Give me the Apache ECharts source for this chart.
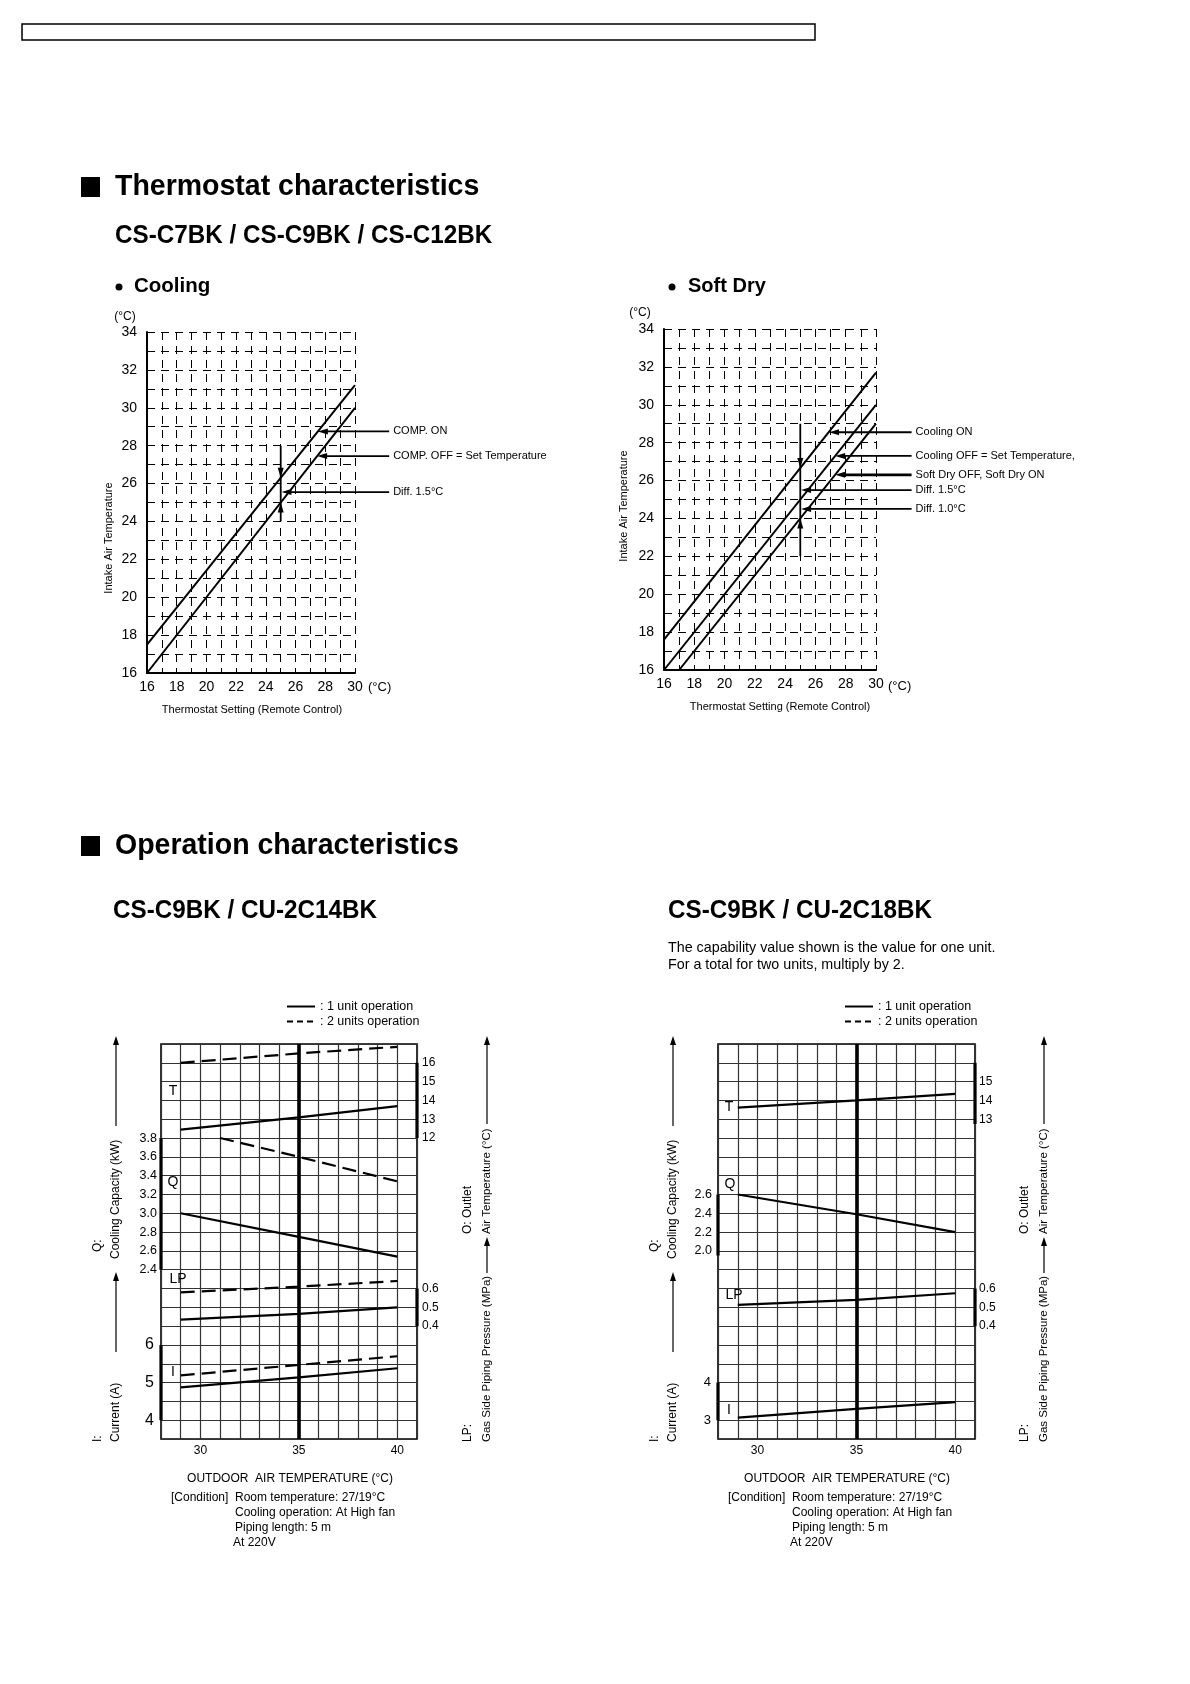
<!DOCTYPE html>
<html><head><meta charset="utf-8">
<script src="https://cdn.jsdelivr.net/npm/echarts/dist/echarts.min.js"></script>
<style>html,body{margin:0;padding:0;background:#fff}#c{width:1190px;height:1684px}</style>
</head><body><div id="c"></div>
<script>
// ---------------- DATA ----------------
// Thermostat charts (x = thermostat setting, y = intake air temperature)
const thermoXLabels = [16, 18, 20, 22, 24, 26, 28, 30];
const thermoYLabels = [16, 18, 20, 22, 24, 26, 28, 30, 32, 34];
const coolOn  = [[16, 17.5], [30, 31.2]];
const coolOff = [[16, 16], [30, 30]];
const dryOn   = [[16, 17.6], [30, 31.7]];
const dryOff  = [[16, 16], [30, 30]];
const drySoft = [[17, 16], [30, 29]];
const coolNotes   = ['COMP. ON', 'COMP. OFF = Set Temperature', 'Diff. 1.5°C'];
const coolNoteY   = [28.75, 27.45, 25.55];
const coolNoteTip = [27.5, 27.45, 25.05];
const dryNotes    = ['Cooling ON', 'Cooling OFF = Set Temperature,', 'Soft Dry OFF, Soft Dry ON', 'Diff. 1.5°C', 'Diff. 1.0°C'];
const dryNoteY    = [28.55, 27.3, 26.3, 25.5, 24.5];
const dryNoteTip  = [26.9, 27.3, 27.3, 25.05, 25.05];
const coolDiffX = 25, coolDiffY = [28, 26.31, 25.0, 24];
const dryDiffX  = 25, dryDiffY  = [29, 26.66, 24.0, 22];

// Operation characteristics (x = outdoor air temperature)
const opXLabels = [30, 35, 40];
// CS-C9BK / CU-2C14BK
const L_T1  = [[29, 12.45], [35, 13.1], [40, 13.7]];
const L_T2  = [[29, 16.0], [35, 16.5], [40, 16.85]];
const L_Q1  = [[29, 3.0], [35, 2.75], [40, 2.54]];
const L_Q2  = [[31, 3.8], [35, 3.6], [40, 3.34]];
const L_LP1 = [[29, 0.435], [35, 0.465], [40, 0.5]];
const L_LP2 = [[29, 0.58], [35, 0.61], [40, 0.64]];
const L_I1  = [[29, 4.87], [35, 5.14], [40, 5.38]];
const L_I2  = [[29, 5.19], [35, 5.47], [40, 5.7]];
const L_Qticks = [2.4, 2.6, 2.8, 3.0, 3.2, 3.4, 3.6, 3.8];
const L_Tticks = [12, 13, 14, 15, 16];
const L_LPticks = [0.4, 0.5, 0.6];
const L_Iticks = [4, 5, 6];
// CS-C9BK / CU-2C18BK
const R_T1  = [[29, 13.62], [35, 14.0], [40, 14.35]];
const R_Q1  = [[29, 2.6], [35, 2.39], [40, 2.2]];
const R_LP1 = [[29, 0.513], [35, 0.54], [40, 0.575]];
const R_I1  = [[29, 3.07], [35, 3.3], [40, 3.48]];
const R_Qticks = [2.0, 2.2, 2.4, 2.6];
const R_Tticks = [13, 14, 15];
const R_LPticks = [0.4, 0.5, 0.6];
const R_Iticks = [3, 4];
const R_Tbar = [16, 12.75];
const R_Qbar = [2.6, 1.95];

// ---------------- HELPERS ----------------
const F = '"Liberation Sans", Arial, Helvetica, sans-serif';
const BLK = '#000';
function pick(ticks, v, dec) {
  const t = ticks.find(t => Math.abs(t - v) < 1e-6);
  return t === undefined ? '' : t.toFixed(dec);
}
function thermoX(g) {
  return { type: 'value', gridIndex: g, min: 16, max: 30, interval: 1,
    axisLine: { show: true, onZero: false, lineStyle: { color: BLK, width: 2 } },
    axisTick: { show: false },
    axisLabel: { color: BLK, fontSize: 14, fontFamily: F, margin: 7, hideOverlap: false,
      formatter: v => pick(thermoXLabels, v, 0) },
    splitLine: { show: true, lineStyle: { color: BLK, width: 1, type: [8, 6] } } };
}
function thermoY(g) {
  return { type: 'value', gridIndex: g, min: 16, max: 34, interval: 1,
    axisLine: { show: true, onZero: false, lineStyle: { color: BLK, width: 2 } },
    axisTick: { show: false },
    axisLabel: { color: BLK, fontSize: 14, fontFamily: F, margin: 10, hideOverlap: false,
      formatter: v => pick(thermoYLabels, v, 0) },
    splitLine: { show: true, lineStyle: { color: BLK, width: 1, type: [8, 6] } } };
}
function opX(g) {
  return { type: 'value', gridIndex: g, min: 28, max: 41, interval: 1,
    axisLine: { show: false }, axisTick: { show: false },
    axisLabel: { color: BLK, fontSize: 12, fontFamily: F, margin: 6, hideOverlap: false,
      formatter: v => pick(opXLabels, v, 0) },
    splitLine: { show: true, lineStyle: { color: '#333', width: 1.2 } } };
}
function opY(g, pos, min, max, interval, ticks, dec, size, margin, split) {
  return { type: 'value', gridIndex: g, position: pos, min, max, interval,
    axisLine: { show: false }, axisTick: { show: false },
    splitLine: { show: split, lineStyle: { color: '#333', width: 1.2 } },
    axisLabel: { color: BLK, fontSize: size, fontFamily: F, margin, hideOverlap: false,
      formatter: v => pick(ticks, v, dec) } };
}
function plain(xi, yi, data, w) {
  return { type: 'line', xAxisIndex: xi, yAxisIndex: yi, data, showSymbol: false, symbol: 'none',
    clip: false, silent: true, lineStyle: { color: BLK, width: w || 2 } };
}
function opLine(xi, yi, data, dashed) {
  return { type: 'line', name: dashed ? '2 units operation' : '1 unit operation',
    xAxisIndex: xi, yAxisIndex: yi, data, showSymbol: false, symbol: 'none', silent: true,
    itemStyle: { color: BLK },
    lineStyle: { color: BLK, width: 2.2, type: dashed ? [14, 7] : 'solid' } };
}
function bar(xi, yi, xv, range) {
  return plain(xi, yi, [[xv, range[0]], [xv, range[1]]], 3.2);
}
function diffLine(xi, yi, x, ys) {
  return { type: 'line', xAxisIndex: xi, yAxisIndex: yi, clip: false, silent: true, showSymbol: true,
    lineStyle: { color: BLK, width: 1.8 }, itemStyle: { color: BLK },
    data: [
      { value: [x, ys[0]], symbol: 'none' },
      { value: [x, ys[1]], symbol: 'triangle', symbolSize: [6, 10], symbolRotate: 180, symbolOffset: [0, -5] },
      { value: [x, ys[2]], symbol: 'triangle', symbolSize: [6, 10], symbolOffset: [0, 5] },
      { value: [x, ys[3]], symbol: 'none' }
    ] };
}
function T(x, y, text, size, o) {
  o = o || {};
  return { type: 'text', x, y, rotation: o.rot || 0, scaleX: o.sx || 1, silent: true,
    style: { text, fontSize: size, fontFamily: F, fontWeight: o.bold ? 'bold' : 'normal', fill: BLK,
      align: o.align || 'left', verticalAlign: o.va || 'middle' } };
}
function upArrow(x, yBottom, yTop) {
  return [
    { type: 'line', silent: true, shape: { x1: x, y1: yBottom, x2: x, y2: yTop + 5 }, style: { stroke: BLK, lineWidth: 1.2 } },
    { type: 'polygon', silent: true, shape: { points: [[x, yTop], [x - 3, yTop + 9], [x + 3, yTop + 9]] }, style: { fill: BLK } }
  ];
}
const R90 = Math.PI / 2;

// ---------------- LAYOUT ----------------
const grids = [
  { left: 147, top: 332, width: 208, height: 341 },
  { left: 664, top: 329, width: 212, height: 341 },
  { left: 161, top: 1044, width: 256, height: 395, show: true, borderColor: BLK, borderWidth: 1.6 },
  { left: 718, top: 1044, width: 257, height: 395, show: true, borderColor: BLK, borderWidth: 1.6 }
].map(g => Object.assign({ containLabel: false, outerBoundsMode: 'none' }, g));

const xAxis = [thermoX(0), thermoX(1), opX(2), opX(3)];
const yAxis = [
  thermoY(0), thermoY(1),
  opY(2, 'right', -4, 17, 1, L_Tticks, 0, 12, 5, true),        // 2 T
  opY(2, 'right', -0.2, 1.9, 0.1, L_LPticks, 1, 12, 5, false), // 3 LP
  opY(2, 'left', 0.6, 4.8, 0.2, L_Qticks, 1, 12.5, 4, false),  // 4 Q
  opY(2, 'left', 3.5, 14, 0.5, L_Iticks, 0, 16, 7, false),     // 5 I
  opY(3, 'right', -4, 17, 1, R_Tticks, 0, 12, 4, true),        // 6 T
  opY(3, 'right', -0.2, 1.9, 0.1, R_LPticks, 1, 12, 4, false), // 7 LP
  opY(3, 'left', 0.0, 4.2, 0.2, R_Qticks, 1, 12.5, 6, false),  // 8 Q
  opY(3, 'left', 2.5, 13, 0.5, R_Iticks, 0, 13, 7, false)      // 9 I
];

const series = [];
series.push(plain(0, 0, coolOn), plain(0, 0, coolOff), diffLine(0, 0, coolDiffX, coolDiffY));
series.push(plain(1, 1, dryOn), plain(1, 1, dryOff), plain(1, 1, drySoft), diffLine(1, 1, dryDiffX, dryDiffY));
const mark35 = { silent: true, symbol: ['none', 'none'], label: { show: false },
  lineStyle: { color: BLK, width: 3.6, type: 'solid' }, data: [{ xAxis: 35 }] };
series.push(Object.assign(opLine(2, 2, L_T1, false), { markLine: mark35 }));
series.push(opLine(2, 2, L_T2, true), opLine(2, 4, L_Q1, false), opLine(2, 4, L_Q2, true),
  opLine(2, 3, L_LP1, false), opLine(2, 3, L_LP2, true), opLine(2, 5, L_I1, false), opLine(2, 5, L_I2, true));
series.push(bar(2, 4, 28, [L_Qticks[L_Qticks.length - 1], L_Qticks[0]]),
  bar(2, 5, 28, [L_Iticks[L_Iticks.length - 1], L_Iticks[0]]),
  bar(2, 2, 41, [L_Tticks[L_Tticks.length - 1], L_Tticks[0]]),
  bar(2, 3, 41, [L_LPticks[L_LPticks.length - 1], L_LPticks[0]]));
series.push(Object.assign(opLine(3, 6, R_T1, false), { markLine: mark35 }));
series.push(opLine(3, 8, R_Q1, false), opLine(3, 7, R_LP1, false), opLine(3, 9, R_I1, false));
series.push(bar(3, 8, 28, R_Qbar),
  bar(3, 9, 28, [R_Iticks[R_Iticks.length - 1], R_Iticks[0]]),
  bar(3, 6, 41, R_Tbar),
  bar(3, 7, 41, [R_LPticks[R_LPticks.length - 1], R_LPticks[0]]));

// ---------------- TEXT / DECORATION ----------------
const g = [];
g.push({ type: 'rect', silent: true, shape: { x: 22, y: 24, width: 793, height: 16 }, style: { fill: 'none', stroke: BLK, lineWidth: 1.5 } });
g.push({ type: 'rect', silent: true, shape: { x: 81, y: 177, width: 19, height: 20 }, style: { fill: BLK } });
g.push(T(115, 187, 'Thermostat characteristics', 30, { bold: true, sx: 0.95 }));
g.push(T(115, 236, 'CS-C7BK / CS-C9BK / CS-C12BK', 25, { bold: true, sx: 0.97 }));
g.push({ type: 'circle', silent: true, shape: { cx: 119, cy: 287, r: 3.5 }, style: { fill: BLK } });
g.push(T(134, 286, 'Cooling', 20.5, { bold: true }));
g.push({ type: 'circle', silent: true, shape: { cx: 672, cy: 287, r: 3.5 }, style: { fill: BLK } });
g.push(T(688, 286, 'Soft Dry', 20, { bold: true }));
// cooling axis texts
g.push(T(125, 317, '(°C)', 12, { align: 'center' }));
g.push(T(368, 687, '(°C)', 13));
g.push(T(252, 710, 'Thermostat Setting (Remote Control)', 11, { align: 'center' }));
g.push(T(109, 538, 'Intake Air Temperature', 11, { align: 'center', rot: R90 }));
// soft dry axis texts
g.push(T(640, 313, '(°C)', 12, { align: 'center' }));
g.push(T(888, 686, '(°C)', 13));
g.push(T(780, 707, 'Thermostat Setting (Remote Control)', 11, { align: 'center' }));
g.push(T(624, 506, 'Intake Air Temperature', 11, { align: 'center', rot: R90 }));
// operation headings
g.push({ type: 'rect', silent: true, shape: { x: 81, y: 836, width: 19, height: 20 }, style: { fill: BLK } });
g.push(T(115, 846, 'Operation characteristics', 30, { bold: true, sx: 0.95 }));
g.push(T(113, 911, 'CS-C9BK / CU-2C14BK', 25, { bold: true, sx: 0.97 }));
g.push(T(668, 911, 'CS-C9BK / CU-2C18BK', 25, { bold: true, sx: 0.97 }));
g.push(T(668, 948, 'The capability value shown is the value for one unit.', 14.3));
g.push(T(668, 965, 'For a total for two units, multiply by 2.', 14.3));
// operation chart side texts
function opTexts(dx, letters) {
  letters.forEach(l => g.push(T(l[1], l[2], l[0], 14, { align: 'center' })));
  g.push(T(98 + dx, 1252, 'Q:', 12, { rot: R90 }));
  g.push(T(116 + dx, 1259, 'Cooling Capacity (kW)', 12, { rot: R90 }));
  g.push(...upArrow(116 + dx, 1126, 1036));
  g.push(T(98 + dx, 1442, 'I:', 12, { rot: R90 }));
  g.push(T(116 + dx, 1442, 'Current (A)', 12, { rot: R90 }));
  g.push(...upArrow(116 + dx, 1352, 1272));
  g.push(T(468 + dx, 1234, 'O: Outlet', 12, { rot: R90 }));
  g.push(T(468 + dx, 1442, 'LP:', 12, { rot: R90 }));
  g.push(T(487 + dx, 1442, 'Gas Side Piping Pressure (MPa)', 11.5, { rot: R90 }));
  g.push(...upArrow(487 + dx, 1273, 1237));
  g.push(T(487 + dx, 1234, 'Air Temperature (°C)', 11.5, { rot: R90 }));
  g.push(...upArrow(487 + dx, 1124, 1036));
  g.push(T(290 + dx, 1479, 'OUTDOOR  AIR TEMPERATURE (°C)', 12, { align: 'center' }));
  g.push(T(171 + dx, 1498, '[Condition]', 12));
  g.push(T(235 + dx, 1498, 'Room temperature: 27/19°C', 12));
  g.push(T(235 + dx, 1513, 'Cooling operation: At High fan', 12));
  g.push(T(235 + dx, 1528, 'Piping length: 5 m', 12));
  g.push(T(233 + dx, 1543, 'At 220V', 12));
}
opTexts(0, [['T', 173, 1091], ['Q', 173, 1182], ['LP', 178, 1279], ['I', 173, 1372]]);
opTexts(557, [['T', 729, 1107], ['Q', 730, 1184], ['LP', 734, 1295], ['I', 729, 1410]]);

const legendBase = {
  data: [{ name: '1 unit operation' }, { name: '2 units operation', lineStyle: { type: [6, 4] } }],
  orient: 'vertical', top: 995, itemGap: 2, itemWidth: 28, itemHeight: 12, selectedMode: false,
  itemStyle: { opacity: 0 },
  textStyle: { fontSize: 12.5, fontFamily: F, color: BLK }, formatter: n => ': ' + n };

const option = {
  animation: false,
  backgroundColor: '#fff',
  textStyle: { fontFamily: F },
  grid: grids, xAxis, yAxis, series,
  legend: [Object.assign({ left: 281 }, legendBase), Object.assign({ left: 839 }, legendBase)]
};
const chart = echarts.init(document.getElementById('c'), null, { renderer: 'canvas', width: 1190, height: 1684 });
chart.setOption(option);

// annotation arrows, positioned through the charts' own scales
function noteArrow(grid, tailX, y, tipX, text, w) {
  const f = { xAxisIndex: grid, yAxisIndex: grid };
  const p1 = chart.convertToPixel(f, [tailX, y]);
  const p2 = chart.convertToPixel(f, [tipX, y]);
  g.push({ type: 'line', silent: true, shape: { x1: p1[0], y1: p1[1], x2: p2[0] + 8, y2: p2[1] }, style: { stroke: BLK, lineWidth: w || 1.8 } });
  g.push({ type: 'polygon', silent: true, shape: { points: [[p2[0], p2[1]], [p2[0] + 10, p2[1] - 3], [p2[0] + 10, p2[1] + 3]] }, style: { fill: BLK } });
  g.push(T(p1[0] + 4, p1[1], text, 11));
}
coolNotes.forEach((t, i) => noteArrow(0, 32.3, coolNoteY[i], coolNoteTip[i], t));
dryNotes.forEach((t, i) => noteArrow(1, 32.35, dryNoteY[i], dryNoteTip[i], t, i === 2 ? 2.6 : 1.8));

chart.setOption({ graphic: { elements: g } });
</script></body></html>
